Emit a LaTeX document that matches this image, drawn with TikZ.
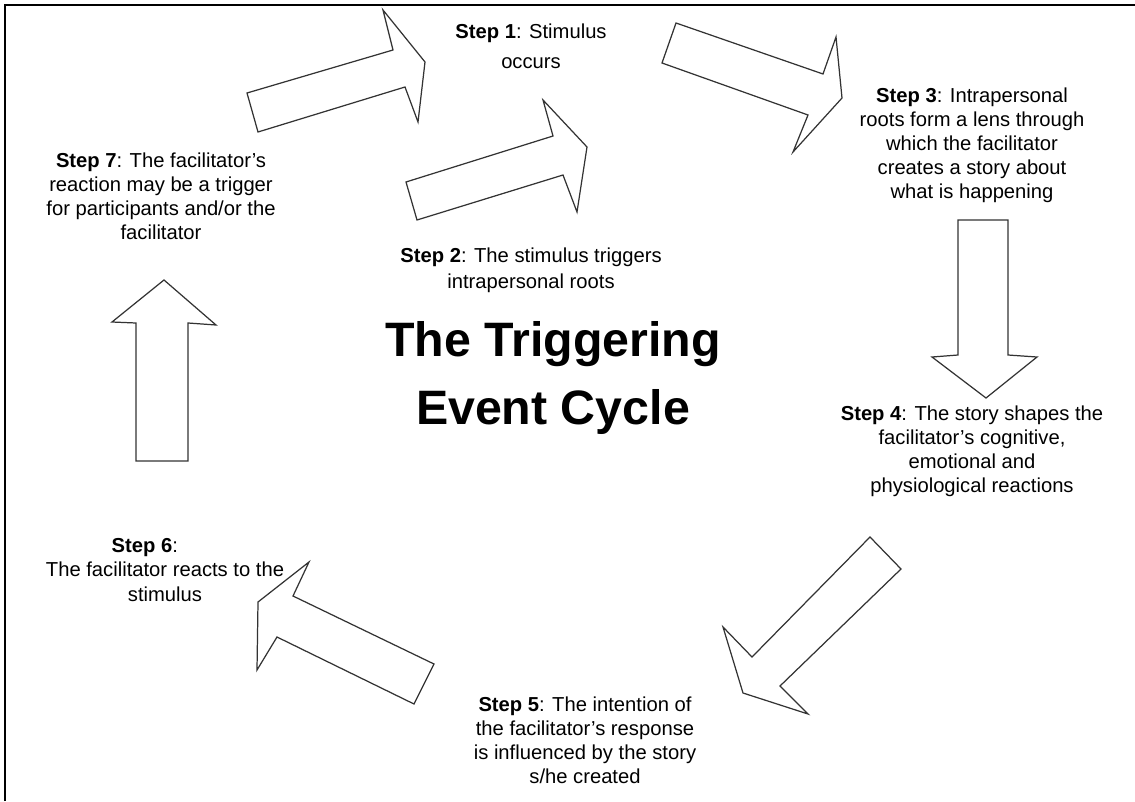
\documentclass[tikz,border=0pt]{standalone}
\usepackage{fontspec}
\setmainfont{Liberation Sans}
\usetikzlibrary{positioning}

\tikzset{
  steptext/.style={align=center, inner sep=0pt, font=\fontsize{11.5}{13.7}\selectfont},
  blockarrow/.style={draw=black!80, line width=0.7pt, fill=white, line join=miter}
}

\begin{document}
\begin{tikzpicture}[x=0.02cm, y=-0.02cm]
        \useasboundingbox (0,0) rectangle (1135,801);
        \draw[line width=1.2pt] (5,801) -- (5,5) -- (1135,5);

        % block arrows, clockwise from step 7 to step 1
        \draw[blockarrow] (247,93) -- (393,50) -- (383,10) -- (425,62) -- (418,122) -- (405,87) -- (258,132) -- cycle;
        \draw[blockarrow] (406,182) -- (553,136) -- (543,100) -- (587,147) -- (577,212) -- (563,175) -- (417,220) -- cycle;
        \draw[blockarrow] (676,23) -- (823,74) -- (836,37) -- (842,98) -- (793,152) -- (808,115) -- (662,63) -- cycle;
        \draw[blockarrow] (958,220) -- (1008,220) -- (1008,355) -- (1037,357) -- (986,398) -- (932,357) -- (958,355) -- cycle;
        \draw[blockarrow] (870,537) -- (901,569) -- (780,686) -- (808,714) -- (743,693) -- (723,627) -- (752,657) -- cycle;
        \draw[blockarrow] (434,664) -- (414,704) -- (277,637) -- (257,670) -- (258,602) -- (309,562) -- (293,596) -- cycle;
        \draw[blockarrow] (136,461) -- (188,461) -- (188,323) -- (216,325) -- (164,280) -- (112,322) -- (136,323) -- cycle;

        % texts
        \node at (531,46) [steptext, font=\fontsize{11.5}{17}\selectfont] (step1) {\textbf{Step 1}: Stimulus\\occurs};
        \node at (531,270) [steptext, font=\fontsize{11.5}{14.8}\selectfont] (step2) {\textbf{Step 2}: The stimulus triggers\\intrapersonal roots};
        \node at (972,145) [steptext] (step3) {\textbf{Step 3}: Intrapersonal\\roots form a lens through\\which the facilitator\\creates a story about\\what is happening};
        \node at (972,451) [steptext] (step4) {\textbf{Step 4}: The story shapes the\\facilitator's cognitive,\\emotional and\\physiological reactions};
        \node at (585,740) [steptext] (step5) {\textbf{Step 5}: The intention of\\the facilitator's response\\is influenced by the story\\s/he created};
        \node at (165,570) [steptext] (step6) {\mbox{\textbf{Step 6}:\hspace{2em}}\\The facilitator reacts to the\\stimulus};
        \node at (161,196) [steptext] (step7) {\textbf{Step 7}: The facilitator's\\reaction may be a trigger\\for participants and/or the\\facilitator};

        \node at (553,378) [align=center, inner sep=0pt, font=\fontsize{27.5}{39}\selectfont\bfseries] (title) {The Triggering\\Event Cycle};
    \end{tikzpicture}
\end{document}
